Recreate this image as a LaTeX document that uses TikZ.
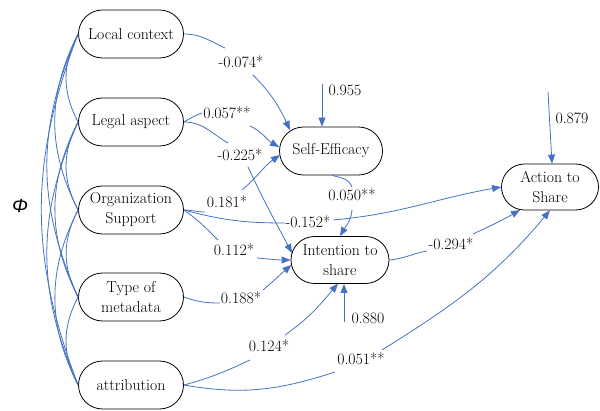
\documentclass[tikz,border=0pt]{standalone}
\usepackage{fontspec}
\newfontfamily\phifont{Liberation Sans}
\usetikzlibrary{shapes.misc,arrows.meta,calc}
\definecolor{lnblue}{RGB}{68,114,196}
\begin{document}
\begin{tikzpicture}[x=1pt,y=1pt,
  box/.style={rounded rectangle, draw=black, line width=0.8pt, minimum width=105pt, minimum height=48pt, inner sep=0pt, align=center, font=\rmfamily\fontsize{15.8}{20}\selectfont},
  lbl/.style={inner sep=0pt, font=\rmfamily\fontsize{15.8}{18}\selectfont},
  link/.style={draw=lnblue, line width=0.8pt},
  arrowline/.style={link, -{Triangle[length=9pt,width=7pt]}},
]
\useasboundingbox (0,0) rectangle (600,410);
% nodes
\node[box] (lc) at (131,376) {Local context};
\node[box] (la) at (131,288) {Legal aspect};
\node[box] (os) at (131,200) {Organization\\Support};
\node[box] (tm) at (131,113) {Type of\\metadata};
\node[box] (at) at (131,25) {attribution};
\node[box, minimum width=103pt] (se) at (331,259) {Self-Efficacy};
\node[box, minimum width=98pt, minimum height=47pt] (is) at (340,150) {Intention to\\share};
\node[box, minimum width=97pt, minimum height=46pt] (as) at (550,223) {Action to\\Share};
\node[font=\phifont\itshape\fontsize{19}{20}\selectfont] (phi) at (20,204) {Φ};
% labels
\node[lbl] (l1) at (241,348) {-0.074*};
\node[lbl] (l2) at (227,297) {0.057**};
\node[lbl] (l3) at (240,255) {-0.225*};
\node[lbl] (l4) at (227,208) {0.181*};
\node[lbl] (l5) at (308,188) {-0.152*};
\node[lbl] (l6) at (234,160) {0.112*};
\node[lbl] (l7) at (241,112) {0.188*};
\node[lbl] (l8) at (269,64) {0.124*};
\node[lbl] (l9) at (361,51) {0.051**};
\node[lbl] (l10) at (352,215) {0.050**};
\node[lbl] (l11) at (451,166) {-0.294*};
\node[lbl] (e1) at (345,320) {0.955};
\node[lbl] (e2) at (572,292) {0.879};
\node[lbl] (e3) at (368,92) {0.880};
\coordinate (c1) at (322,326);
\coordinate (c2) at (548,318);
\coordinate (c3) at (344,88);
% covariances
\draw[link] (lc.west) to[bend right=28] (la.west);
\draw[link] (la.west) to[bend right=28] (os.west);
\draw[link] (os.west) to[bend right=28] (tm.west);
\draw[link] (tm.west) to[bend right=28] (at.west);
\draw[link] (lc.west) to[bend right=27] (os.west);
\draw[link] (la.west) to[bend right=27] (tm.west);
\draw[link] (os.west) to[bend right=27] (at.west);
\draw[link] (lc.west) to[bend right=24] (tm.west);
\draw[link] (la.west) to[bend right=24] (at.west);
\draw[link] (lc.west) to[bend right=21] (at.west);
% paths
\draw[link] (lc.east) to[out=0,in=155] ($(l1)+(-16,14)$);
\draw[arrowline] ($(l1)+(12,-13)$) to[out=-45,in=115] ($(se)+(-41,21)$);
\draw[link] (la.east) to[out=30,in=200] ($(l2)+(-25,0)$);
\draw[arrowline] ($(l2)+(23,-13)$) to[out=-25,in=150] ($(se)+(-52,4)$);
\draw[link] (la.east) to[out=0,in=150] ($(l3)+(-12,12)$);
\draw[arrowline] ($(l3)+(8,-12)$) to[out=-65,in=118] ($(is)+(-48,7)$);
\draw[link] (os.east) to[out=0,in=180] ($(l4)+(-22,-10)$);
\draw[arrowline] ($(l4)+(15,12)$) to[out=40,in=215] ($(se)+(-51,-4)$);
\draw[link] (os.east) to[out=-15,in=180] ($(l5)+(-23,-1)$);
\draw[arrowline] ($(l5)+(25,2)$) to[out=5,in=190] (as.west);
\draw[link] (os.east) to[out=-35,in=135] ($(l6)+(-16,10)$);
\draw[arrowline] ($(l6)+(23,-8)$) to[out=-5,in=180] (is.west);
\draw[link] (tm.east) to[out=-20,in=180] ($(l7)+(-21,-5)$);
\draw[arrowline] ($(l7)+(22,8)$) to[out=40,in=220] ($(is)+(-48.5,-5)$);
\draw[link] (at.east) to[out=15,in=205] ($(l8)+(-19,-14)$);
\draw[arrowline] ($(l8)+(16,11)$) to[out=35,in=230] ($(is)+(-2,-23.5)$);
\draw[link] (at.east) to[out=-10,in=198] ($(l9)+(-26,-13)$);
\draw[arrowline] ($(l9)+(21,9)$) to[out=32,in=230] (as.south);
\draw[link] ($(se.south)+(1,0)$) to[out=-15,in=110] ($(l10)+(0,8)$);
\draw[arrowline] ($(l10)+(0,-15)$) to[out=-95,in=60] (is.north);
\draw[link] (is.east) to[out=5,in=190] ($(l11)+(-24,-7)$);
\draw[arrowline] ($(l11)+(22,10)$) to[out=25,in=210] ($(as)+(-30,-23)$);
% residuals
\draw[arrowline] (c1) -- (c1 |- se.north);
\draw[arrowline] (c2) -- ($(as.north)+(2,0)$);
\draw[arrowline] (c3) -- (c3 |- is.south);
\end{tikzpicture}
\end{document}
